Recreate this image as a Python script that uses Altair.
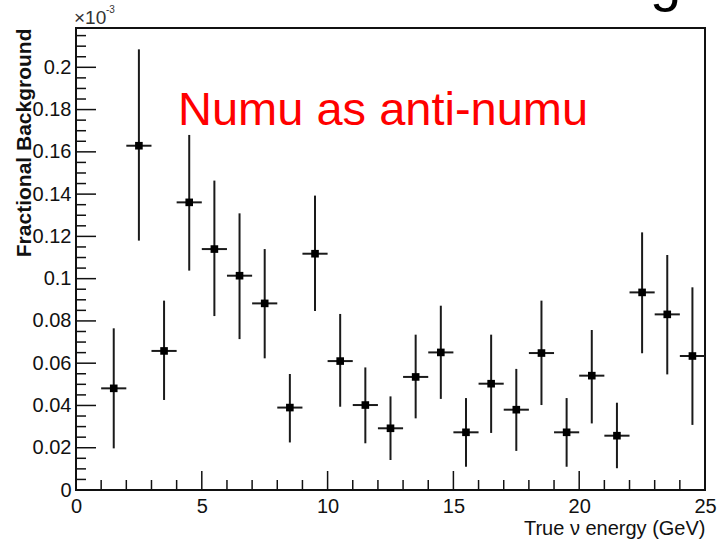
import altair as alt
import pandas as pd

# ---- data (values in units of 1e-3) ----
energy = [1.5, 2.5, 3.5, 4.5, 5.5, 6.5, 7.5, 8.5, 9.5, 10.5, 11.5, 12.5,
          13.5, 14.5, 15.5, 16.5, 17.5, 18.5, 19.5, 20.5, 21.5, 22.5, 23.5, 24.5]
frac = [0.0481, 0.1629, 0.0658, 0.1361, 0.1140, 0.1014, 0.0883, 0.0390,
        0.1118, 0.0610, 0.0402, 0.0292, 0.0535, 0.0651, 0.0273, 0.0503,
        0.0380, 0.0648, 0.0273, 0.0541, 0.0257, 0.0935, 0.0831, 0.0634]
err_hi = [0.0765, 0.2085, 0.0896, 0.1680, 0.1464, 0.1309, 0.1140, 0.0549,
          0.1393, 0.0833, 0.0580, 0.0443, 0.0735, 0.0872, 0.0435, 0.0735,
          0.0573, 0.0896, 0.0435, 0.0757, 0.0413, 0.1219, 0.1112, 0.0959]
err_lo = [0.0197, 0.1180, 0.0426, 0.1038, 0.0823, 0.0714, 0.0623, 0.0225,
          0.0847, 0.0394, 0.0221, 0.0142, 0.0339, 0.0431, 0.0110, 0.0270,
          0.0185, 0.0402, 0.0110, 0.0315, 0.0103, 0.0647, 0.0547, 0.0308]
bin_half = 0.5

y_major = [0, 0.02, 0.04, 0.06, 0.08, 0.1, 0.12, 0.14, 0.16, 0.18, 0.2]
y_minor = [0.005, 0.01, 0.015, 0.025, 0.03, 0.035, 0.045, 0.05, 0.055,
           0.065, 0.07, 0.075, 0.085, 0.09, 0.095, 0.105, 0.11, 0.115,
           0.125, 0.13, 0.135, 0.145, 0.15, 0.155, 0.165, 0.17, 0.175,
           0.185, 0.19, 0.195, 0.205, 0.21, 0.215]
x_major = [0, 5, 10, 15, 20, 25]
x_minor = [1, 2, 3, 4, 6, 7, 8, 9, 11, 12, 13, 14, 16, 17, 18, 19,
           21, 22, 23, 24]

X_DOMAIN = [0, 25]
Y_DOMAIN = [0, 0.2186]

W, H = 629, 462
FONT = "'Liberation Sans', Arial, sans-serif"
INK = "#111111"

df = pd.DataFrame({"energy": energy, "frac": frac, "hi": err_hi, "lo": err_lo})
df["xl"] = df["energy"] - bin_half
df["xr"] = df["energy"] + bin_half

xs = alt.Scale(domain=X_DOMAIN, nice=False, zero=False)
ys = alt.Scale(domain=Y_DOMAIN, nice=False)

base = alt.Chart(df)

vbars = base.mark_rule(color="#1a1a1a", strokeWidth=2).encode(
    x=alt.X("energy:Q", scale=xs,
            axis=alt.Axis(values=x_major, ticks=False, domain=False, grid=False,
                          labelFont=FONT, labelFontSize=20, labelColor=INK,
                          labelPadding=6, labelFlush=False,
                          title="True ν energy (GeV)", titleFont=FONT,
                          titleFontSize=20, titleFontWeight="normal",
                          titleColor=INK, titleAnchor="end", titleAlign="right",
                          titleX=W, titleY=44, titleBaseline="alphabetic")),
    y=alt.Y("lo:Q", scale=ys,
            axis=alt.Axis(values=y_major, format="~g", ticks=False, domain=False,
                          grid=False, labelFont=FONT, labelFontSize=20,
                          labelColor=INK, labelPadding=5, labelFlush=False,
                          labelBaseline="middle",
                          title="Fractional Background", titleFont=FONT,
                          titleFontSize=21, titleFontWeight="bold",
                          titleColor=INK, titleAngle=270, titleAnchor="end",
                          titleAlign="right", titleX=-46, titleY=0,
                          titleBaseline="alphabetic")),
    y2="hi:Q",
)

hbars = base.mark_rule(color="#1a1a1a", strokeWidth=2).encode(
    x=alt.X("xl:Q", scale=xs), x2="xr:Q", y=alt.Y("frac:Q", scale=ys))

points = base.mark_square(color="#000000", size=58, opacity=1).encode(
    x=alt.X("energy:Q", scale=xs), y=alt.Y("frac:Q", scale=ys))

ymaj = alt.Chart(pd.DataFrame({"v": y_major})).mark_rule(color=INK, strokeWidth=1.5).encode(
    y=alt.Y("v:Q", scale=ys), x=alt.value(0), x2=alt.value(20))
ymin = alt.Chart(pd.DataFrame({"v": y_minor})).mark_rule(color=INK, strokeWidth=1.5).encode(
    y=alt.Y("v:Q", scale=ys), x=alt.value(0), x2=alt.value(10))
xmaj = alt.Chart(pd.DataFrame({"v": x_major})).mark_rule(color=INK, strokeWidth=1.5).encode(
    x=alt.X("v:Q", scale=xs), y=alt.value(H), y2=alt.value(H - 19))
xmin = alt.Chart(pd.DataFrame({"v": x_minor})).mark_rule(color=INK, strokeWidth=1.5).encode(
    x=alt.X("v:Q", scale=xs), y=alt.value(H), y2=alt.value(H - 10))

label_df = pd.DataFrame({"t": ["Numu as anti-numu"]})
red = alt.Chart(label_df).mark_text(
    color="#ff0000", font="Liberation Sans", fontSize=47, align="left",
    baseline="alphabetic").encode(text="t:N", x=alt.value(102), y=alt.value(97))

exp_base = alt.Chart(pd.DataFrame({"t": ["×10"]})).mark_text(
    color="#333333", font=FONT, fontSize=19, align="left",
    baseline="alphabetic").encode(text="t:N", x=alt.value(-2), y=alt.value(-4))
exp_sup = alt.Chart(pd.DataFrame({"t": ["-3"]})).mark_text(
    color="#333333", font=FONT, fontSize=10, align="left",
    baseline="alphabetic").encode(text="t:N", x=alt.value(30), y=alt.value(-15))

glyph = alt.Chart(pd.DataFrame({"t": ["g"]})).mark_text(
    color="#000000", font="Liberation Sans", fontSize=56, align="left",
    baseline="alphabetic").encode(text="t:N", x=alt.value(574), y=alt.value(-28))

chart = alt.layer(
    vbars, hbars, points, ymaj, ymin, xmaj, xmin, red, exp_base, exp_sup, glyph
).properties(
    width=W, height=H,
    padding={"left": 76, "top": 28, "right": 14, "bottom": 52},
    autosize=alt.AutoSizeParams(type="none"),
    background="white",
).configure_view(
    stroke="#111111", strokeWidth=2
)

chart.save("out.html", embed_options={"renderer": "svg", "actions": False})
